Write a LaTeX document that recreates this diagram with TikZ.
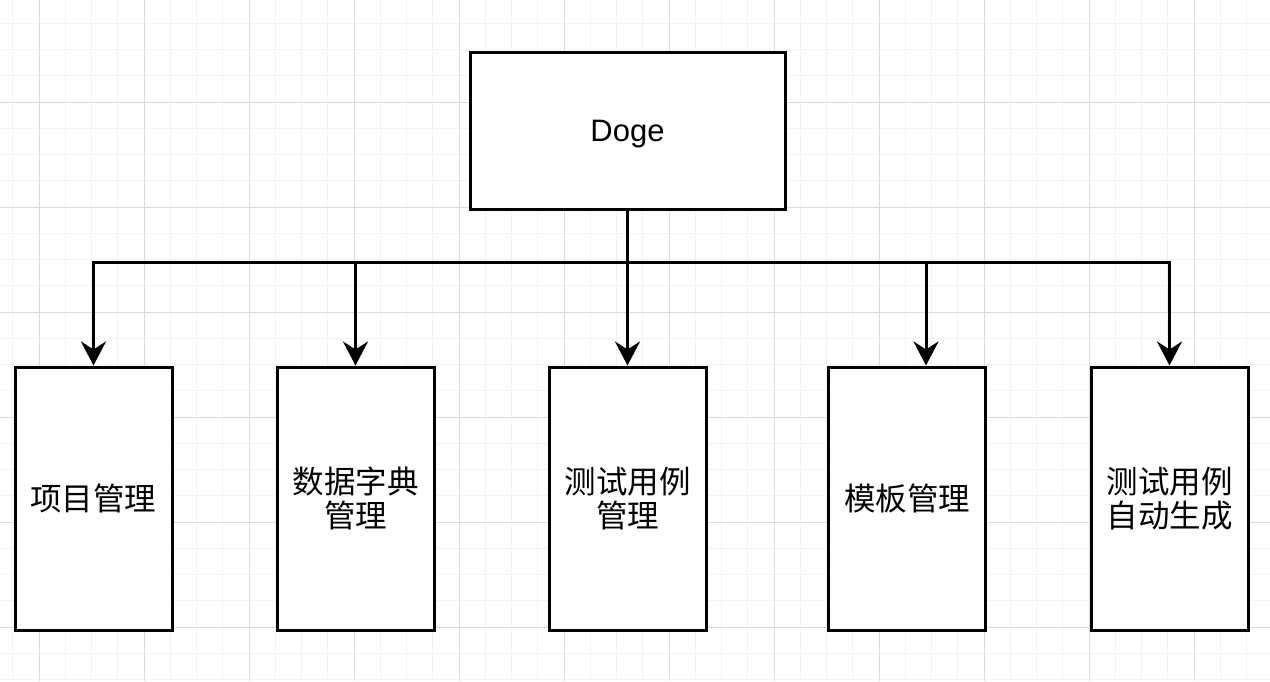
\documentclass[tikz,border=0pt]{standalone}
\usepackage{fontspec}
\setmainfont{Liberation Sans}
\newfontfamily\cjk{Noto Sans CJK SC}
\usetikzlibrary{arrows.meta}

\begin{document}
\begin{tikzpicture}[
        x=1pt, y=-1pt,
        box/.style={rectangle, draw, line width=3pt, fill=white, inner sep=0pt},
        topbox/.style={box, minimum width=315pt, minimum height=157pt, text height=22pt, text depth=1pt, font=\fontsize{31}{34}\selectfont},
        leafbox/.style={box, align=center, minimum width=157pt, minimum height=263pt, font=\fontsize{31.5}{34}\selectfont\cjk},
        link/.style={line width=3pt},
        >={Stealth[length=24pt, width=25pt, inset=8pt]},
    ]
    % background and grid
    \fill[white] (0,0) rectangle (1270,681);
    \useasboundingbox (0,0) rectangle (1270,681);
    \foreach \i in {0,...,48} {
        \pgfmathsetmacro{\gx}{12.75+26.25*\i}
        \draw[black!5, line width=1pt] (\gx,0) -- (\gx,681);
    }
    \foreach \i in {0,...,26} {
        \pgfmathsetmacro{\gy}{23.25+26.25*\i}
        \draw[black!5, line width=1pt] (0,\gy) -- (1270,\gy);
    }
    \foreach \i in {0,...,12} {
        \pgfmathsetmacro{\gx}{39+105*\i}
        \draw[black!14, line width=1pt] (\gx,0) -- (\gx,681);
    }
    \foreach \i in {0,...,6} {
        \pgfmathsetmacro{\gy}{-3+105*\i}
        \draw[black!14, line width=1pt] (0,\gy) -- (1270,\gy);
    }

    \node[topbox]  (doge) at (627.5, 130.5) {Doge};
    \node[leafbox] (xmgl) at (93.5, 498.5)  {项目管理};
    \node[leafbox] (sjzd) at (355.5, 498.5) {数据字典\\管理};
    \node[leafbox] (csyl) at (627.5, 498.5) {测试用例\\管理};
    \node[leafbox] (mbgl) at (907, 498.5)   {模板管理};
    \node[leafbox] (zdsc) at (1169.5, 498.5) {测试用例\\自动生成};

    \coordinate (fork) at (627.5, 262);
    \coordinate (mbin) at ([xshift=19pt]mbgl.north);
    \draw[link, ->] (doge.south) -- (fork) -| (xmgl.north);
    \draw[link, ->] (fork) -| (sjzd.north);
    \draw[link, ->] (doge.south) -- (csyl.north);
    \draw[link, ->] (fork) -| (mbin);
    \draw[link, ->] (fork) -| (zdsc.north);
\end{tikzpicture}
\end{document}
